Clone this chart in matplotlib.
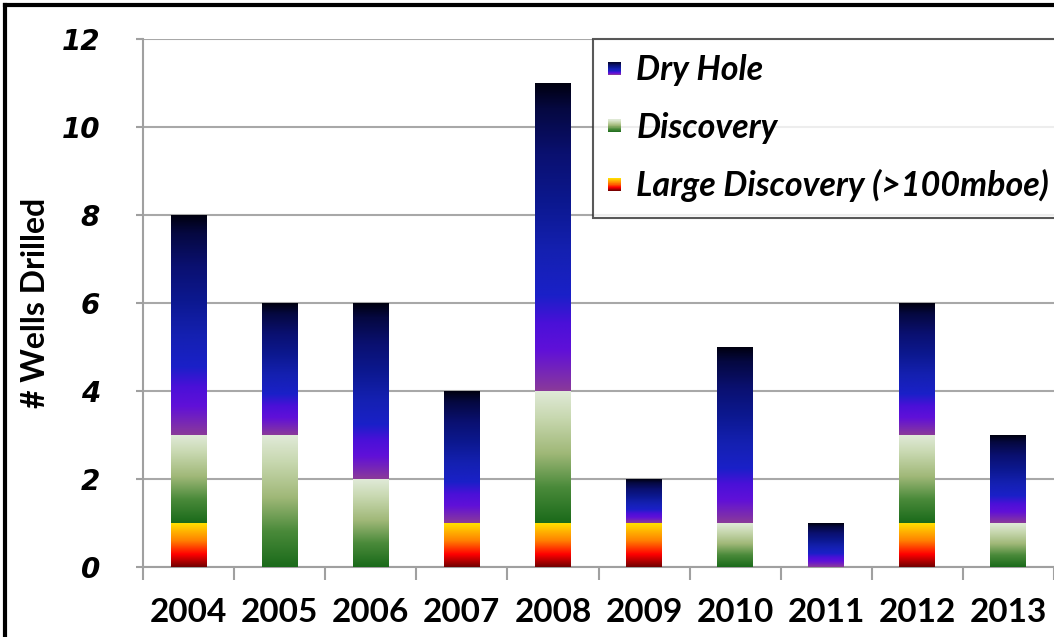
import numpy as np
import matplotlib
matplotlib.use("Agg")
import matplotlib.pyplot as plt
from matplotlib.colors import LinearSegmentedColormap
from matplotlib.patches import Rectangle
from matplotlib.legend_handler import HandlerBase
from matplotlib.lines import Line2D

# Wells drilled per year, split by outcome
years = ['2004', '2005', '2006', '2007', '2008', '2009', '2010', '2011', '2012', '2013']
large_discovery = [1, 0, 0, 1, 1, 1, 0, 0, 1, 0]
discovery = [2, 3, 2, 0, 3, 0, 1, 0, 2, 1]
dry_hole = [5, 3, 4, 3, 7, 1, 4, 1, 3, 2]

series_names = ['Dry Hole', 'Discovery', 'Large Discovery (>100mboe)']

# vertical gradients, listed bottom -> top
cmap_dry = LinearSegmentedColormap.from_list('dry', [
    (0.00, '#8a3a9a'), (0.13, '#6010d8'), (0.22, '#4a10d8'), (0.31, '#1a20c8'),
    (0.46, '#1420b0'), (0.61, '#0c1890'), (0.77, '#0a1070'), (0.92, '#050840'),
    (1.00, '#000010')])
cmap_disc = LinearSegmentedColormap.from_list('disc', [
    (0.00, '#1a6a1a'), (0.27, '#4a8a3a'), (0.53, '#a0b878'), (0.80, '#c8d8b0'),
    (1.00, '#e0ead8')])
cmap_large = LinearSegmentedColormap.from_list('large', [
    (0.00, '#700000'), (0.29, '#ff0000'), (0.60, '#ff8000'), (1.00, '#ffe000')])

grad = np.linspace(0, 1, 256).reshape(-1, 1)

fig = plt.figure(figsize=(10.54, 6.37), dpi=100)
ax = fig.add_axes([143 / 1054, 70 / 637, 1 - 143 / 1054, 528 / 637])

x = np.arange(len(years))
width = 0.395
large = np.array(large_discovery)
disc = np.array(discovery)
dry = np.array(dry_hole)

layers = [(large, np.zeros_like(large), cmap_large),
          (disc, large, cmap_disc),
          (dry, large + disc, cmap_dry)]

for vals, bottom, cmap in layers:
    bars = ax.bar(x, vals, width, bottom=bottom, color='none', edgecolor='none', zorder=3)
    for b in bars:
        if b.get_height() <= 0:
            continue
        bx, by = b.get_xy()
        ax.imshow(grad, extent=[bx, bx + b.get_width(), by, by + b.get_height()],
                  origin='lower', aspect='auto', cmap=cmap, zorder=3,
                  interpolation='bilinear')

ax.set_xlim(-0.5, len(years) - 0.5)
ax.set_ylim(0, 12)

# axes styling
for side in ['top', 'right']:
    ax.spines[side].set_visible(False)
ax.spines['left'].set_color('#a0a0a0')
ax.spines['bottom'].set_color('#a0a0a0')
ax.spines['left'].set_linewidth(1.5)
ax.spines['bottom'].set_linewidth(1.5)

ax.set_yticks(range(0, 13, 2))
ax.yaxis.grid(True, color='#a8a8a8', linewidth=1.5, zorder=0)
ax.set_axisbelow(True)
ax.tick_params(axis='y', color='#a0a0a0', length=5, width=1.5, pad=26)
for lab in ax.get_yticklabels():
    lab.set_fontfamily('DejaVu Sans')
    lab.set_fontweight('bold')
    lab.set_fontstyle('italic')
    lab.set_fontsize(20)

# category labels at centres, tick marks at category boundaries
ax.set_xticks(x)
ax.set_xticklabels(years, fontfamily='Lato', fontweight='bold', fontsize=24)
ax.tick_params(axis='x', length=0, pad=22)
ax.set_xticks(np.arange(len(years) + 1) - 0.5, minor=True)
ax.tick_params(axis='x', which='minor', length=9, width=1.5, color='#a0a0a0')

ax.set_ylabel('# Wells Drilled', fontfamily='Lato', fontweight='bold', fontsize=23)
ax.yaxis.set_label_coords(-0.102, 0.5)


class GradientHandler(HandlerBase):
    def __init__(self, cmap, n=24):
        super().__init__()
        self.cmap = cmap
        self.n = n

    def create_artists(self, legend, orig_handle, xdescent, ydescent,
                       width, height, fontsize, trans):
        side = width
        x0 = -xdescent
        y0 = -ydescent + (height - side) / 2
        strips = []
        for i in range(self.n):
            c = self.cmap((i + 0.5) / self.n)
            r = Rectangle((x0, y0 + side * i / self.n), side, side / self.n + 0.3,
                          facecolor=c, edgecolor='none', transform=trans)
            strips.append(r)
        return strips


handles = [Rectangle((0, 0), 1, 1) for _ in range(3)]
leg = fig.legend(handles, series_names,
                 handler_map={handles[0]: GradientHandler(cmap_dry),
                              handles[1]: GradientHandler(cmap_disc),
                              handles[2]: GradientHandler(cmap_large)},
                 loc='upper left', bbox_to_anchor=(593 / 1054, 1 - 39 / 637),
                 prop={'family': 'Lato', 'weight': 'bold', 'style': 'italic', 'size': 24.5},
                 frameon=True, fancybox=False, edgecolor='#303030',
                 handlelength=0.38, handleheight=0.7, handletextpad=0.44,
                 labelspacing=0.75, borderpad=0.45, borderaxespad=0)
leg.get_frame().set_linewidth(1.5)

# outer border of the figure
fig.add_artist(Line2D([4.5 / 1054, 4.5 / 1054], [0, 1 - 5 / 637], color='black',
                      linewidth=3, transform=fig.transFigure))
fig.add_artist(Line2D([4.5 / 1054, 1], [1 - 5 / 637, 1 - 5 / 637], color='black',
                      linewidth=3, transform=fig.transFigure))

fig.savefig('out.png', dpi=100)
